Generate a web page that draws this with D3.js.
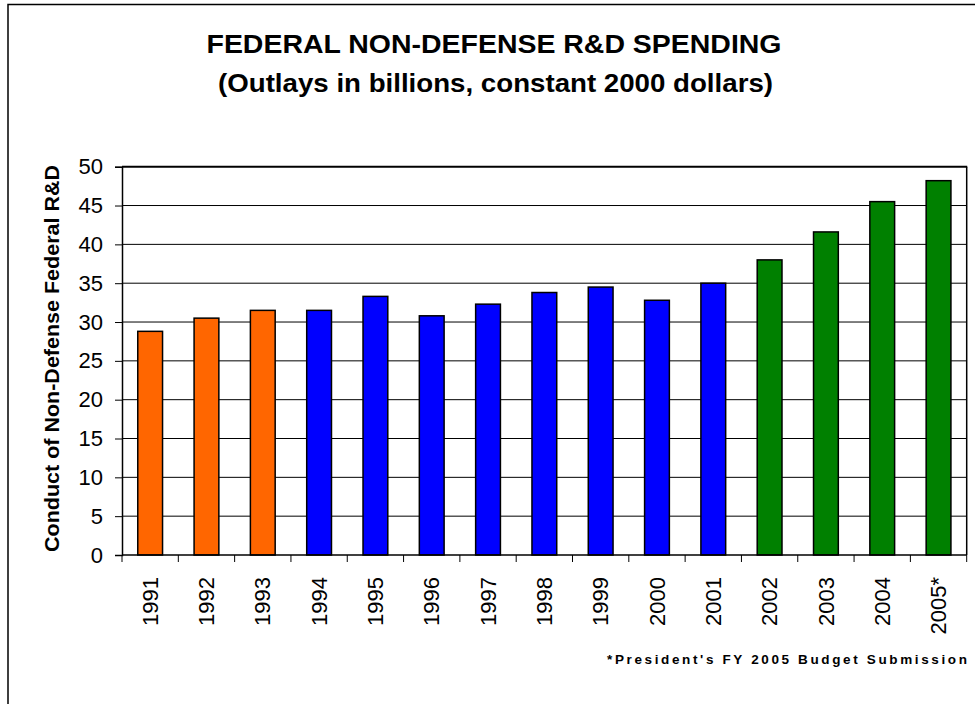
<!DOCTYPE html>
<html>
<head>
<meta charset="utf-8">
<script src="https://cdn.jsdelivr.net/npm/d3@7"></script>
<style>
  html, body { margin: 0; padding: 0; background: #fff; }
  svg { display: block; font-family: Arial, "Liberation Sans", sans-serif; }
</style>
</head>
<body>
<svg id="chart" width="975" height="704"></svg>
<script>
// ---- data ----
const years = ["1991","1992","1993","1994","1995","1996","1997","1998","1999","2000","2001","2002","2003","2004","2005*"];
const values = [28.8, 30.5, 31.5, 31.5, 33.3, 30.8, 32.3, 33.8, 34.5, 32.8, 35.0, 38.0, 41.6, 45.5, 48.2];
const periods = ["a","a","a","b","b","b","b","b","b","b","b","c","c","c","c"];
const periodColors = ["#FF6600", "#0000FF", "#008000"];
const periodKeys = ["a","b","c"];
const yTicks = [0,5,10,15,20,25,30,35,40,45,50];
const titleLines = ["FEDERAL NON-DEFENSE R&D SPENDING", "(Outlays in billions, constant 2000 dollars)"];
const yTitle = "Conduct of Non-Defense Federal R&D";
const footnote = "*President's FY 2005 Budget Submission";

// ---- layout ----
const svg = d3.select("#chart");
const L = 122, R = 966.7, T = 166.7, B = 555;

// outer frame
svg.append("rect").attr("x", 8).attr("y", 4.5).attr("width", 1000).attr("height", 800)
  .attr("fill", "none").attr("stroke", "#000").attr("stroke-width", 1.5);

const x = d3.scaleBand().domain(years).range([L, R]).padding(0);
const y = d3.scaleLinear().domain([0, 50]).range([B, T]);
const color = d3.scaleOrdinal().domain(periodKeys).range(periodColors);

// gridlines
svg.append("g").selectAll("line").data(yTicks.filter(d => d > 0 && d < 50)).join("line")
  .attr("x1", L).attr("x2", R).attr("y1", d => y(d)).attr("y2", d => y(d))
  .attr("stroke", "#000").attr("stroke-width", 1);

// plot area top & right borders
svg.append("line").attr("x1", L).attr("x2", R + 0.5).attr("y1", y(50)).attr("y2", y(50))
  .attr("stroke", "#000").attr("stroke-width", 2);
svg.append("line").attr("x1", R).attr("x2", R).attr("y1", y(50)).attr("y2", B)
  .attr("stroke", "#000").attr("stroke-width", 1.5);

// bars
const bw = x.bandwidth() * 0.44;
svg.append("g").selectAll("rect").data(years).join("rect")
  .attr("x", (d) => x(d) + x.bandwidth() / 2 - bw / 2)
  .attr("width", bw)
  .attr("y", (d, i) => y(values[i]))
  .attr("height", (d, i) => y(0) - y(values[i]))
  .attr("fill", (d, i) => color(periods[i]))
  .attr("stroke", "#000").attr("stroke-width", 1.5);

// y axis
const yAxis = svg.append("g").attr("transform", `translate(${L},0)`)
  .call(d3.axisLeft(y).tickValues(yTicks).tickSize(7).tickPadding(12).tickFormat(d3.format("d")));
yAxis.select(".domain").attr("stroke", "#000").attr("stroke-width", 1.5);
yAxis.selectAll(".tick line").attr("stroke", "#000").attr("stroke-width", 1);
yAxis.selectAll(".tick text").attr("font-size", 22).attr("fill", "#000")
  .attr("font-family", "Arial, 'Liberation Sans', sans-serif");

// x axis line
svg.append("line").attr("x1", L).attr("x2", R).attr("y1", B).attr("y2", B)
  .attr("stroke", "#000").attr("stroke-width", 1.5);
// boundary ticks
const bounds = years.map(d => x(d)).concat([R]);
svg.append("g").selectAll("line").data(bounds).join("line")
  .attr("x1", d => d).attr("x2", d => d).attr("y1", B).attr("y2", B + 7)
  .attr("stroke", "#000").attr("stroke-width", 1);

// x labels
svg.append("g").selectAll("text").data(years).join("text")
  .attr("transform", d => `translate(${x(d) + x.bandwidth() / 2},577) rotate(-90)`)
  .attr("text-anchor", "end").attr("dy", "0.35em")
  .attr("font-size", 22).attr("fill", "#000")
  .text(d => d);

// titles
svg.append("text").attr("x", 494).attr("y", 53.3).attr("text-anchor", "middle")
  .attr("font-size", 26).attr("font-weight", "bold")
  .attr("textLength", 575).attr("lengthAdjust", "spacingAndGlyphs")
  .text(titleLines[0]);
svg.append("text").attr("x", 495.5).attr("y", 91.5).attr("text-anchor", "middle")
  .attr("font-size", 26).attr("font-weight", "bold")
  .attr("textLength", 555).attr("lengthAdjust", "spacingAndGlyphs")
  .text(titleLines[1]);

// y title
svg.append("text").attr("transform", "translate(52,358.5) rotate(-90)")
  .attr("text-anchor", "middle").attr("dy", "0.35em")
  .attr("font-size", 21).attr("font-weight", "bold")
  .attr("textLength", 387).attr("lengthAdjust", "spacingAndGlyphs")
  .text(yTitle);

// footnote
svg.append("text").attr("x", 607).attr("y", 664)
  .attr("font-size", 13.5).attr("font-weight", "bold")
  .attr("textLength", 360).attr("lengthAdjust", "spacing")
  .text(footnote);
</script>
</body>
</html>
